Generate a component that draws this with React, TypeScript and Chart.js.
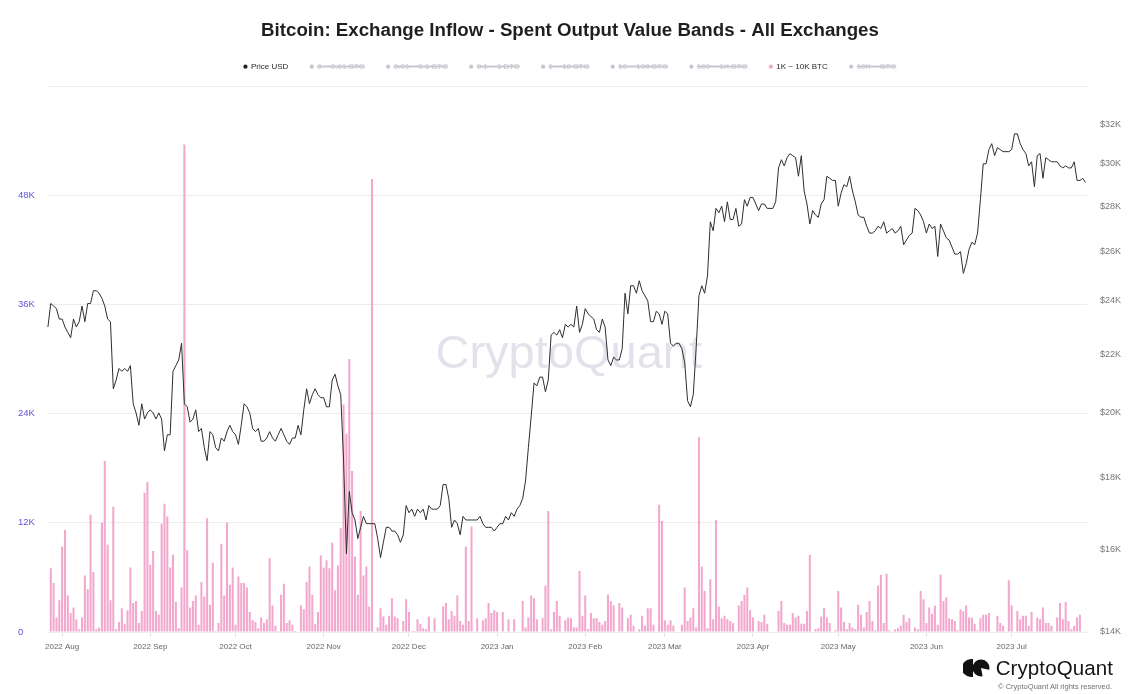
import React, { useEffect, useRef } from "react";
import { Chart, registerables } from "chart.js";

Chart.register(...registerables);

// ---------------- data ----------------
const startYear = 2022;
const startMonthIndex = 6; // July
const startDay = 27;
const monthNames = ["Jan", "Feb", "Mar", "Apr", "May", "Jun", "Jul", "Aug", "Sep", "Oct", "Nov", "Dec"];

// BTC price in thousands of USD, one value per day (2022-07-27 .. 2023-07-27)
const priceUsdK = [
  23.0, 23.9, 23.8, 23.7, 23.3, 23.3, 23.0, 22.8, 22.6, 23.3,
  23.0, 23.2, 23.8, 23.2, 23.9, 23.9, 24.4, 24.4, 24.3, 24.1,
  23.8, 23.3, 23.2, 20.8, 21.1, 21.5, 21.4, 21.5, 21.4, 21.6,
  20.3, 20.0, 19.6, 20.3, 19.8, 20.0, 20.1, 20.0, 19.8, 20.0,
  19.8, 18.8, 19.3, 19.3, 21.4, 21.6, 21.8, 22.4, 20.3, 20.2,
  19.7, 19.8, 20.1, 19.4, 19.5, 18.9, 18.5, 19.4, 19.3, 18.9,
  18.8, 19.2, 19.1, 19.4, 19.6, 19.4, 19.3, 19.0, 19.6, 20.3,
  20.2, 20.0, 19.5, 19.4, 19.5, 19.1, 19.1, 19.2, 19.4, 19.2,
  19.1, 19.3, 19.5, 19.3, 19.1, 19.0, 19.2, 19.2, 19.6, 19.3,
  20.1, 20.8, 20.3, 20.6, 20.8, 20.6, 20.5, 20.5, 20.2, 20.2,
  21.1, 21.3, 20.9, 20.6, 18.5, 15.9, 17.6, 17.0, 16.8, 16.3,
  16.6, 16.9, 16.7, 16.7, 16.7, 16.7, 16.3, 15.8, 16.2, 16.6,
  16.6, 16.5, 16.5, 16.4, 16.2, 16.4, 17.2, 17.0, 17.1, 16.9,
  17.1, 17.0, 17.1, 16.8, 17.2, 17.1, 17.1, 17.1, 17.2, 17.8,
  17.8, 17.4, 16.6, 16.8, 16.7, 16.4, 16.9, 16.8, 16.8, 16.8,
  16.8, 16.8, 16.9, 16.7, 16.6, 16.6, 16.6, 16.5, 16.6, 16.7,
  16.7, 16.9, 16.8, 17.0, 16.9, 17.1, 17.2, 17.4, 17.9, 18.9,
  19.9, 21.0, 20.9, 21.2, 21.2, 20.7, 21.1, 22.7, 22.8, 22.7,
  22.9, 22.6, 23.1, 23.0, 23.1, 23.0, 23.8, 22.8, 23.1, 23.7,
  23.5, 23.4, 23.3, 22.9, 22.8, 23.3, 23.0, 21.8, 21.6, 21.9,
  21.8, 21.8, 22.2, 24.3, 23.5, 24.6, 24.6, 24.3, 24.8, 24.4,
  24.2, 24.0, 23.2, 23.2, 23.6, 23.5, 23.1, 23.6, 23.5, 22.4,
  22.3, 22.4, 22.4, 22.2, 21.7, 20.4, 20.2, 20.6, 22.2, 24.2,
  24.6, 24.3, 25.0, 27.3, 26.9, 27.9, 27.7, 28.0, 27.3, 28.2,
  27.4, 27.4, 27.9, 27.1, 27.2, 28.3, 28.0, 28.4, 28.4, 28.1,
  27.8, 28.1, 28.1, 27.9, 27.9, 27.9, 28.2, 29.8, 30.2, 29.9,
  30.3, 30.5, 30.4, 30.3, 29.4, 30.4, 28.7, 28.1, 27.2, 27.8,
  27.6, 27.5, 28.1, 28.3, 29.4, 29.3, 29.2, 29.2, 28.0, 28.6,
  29.0, 28.9, 29.4, 28.7, 28.2, 27.6, 27.5, 27.5, 27.1, 26.8,
  26.8, 26.9, 27.1, 27.0, 27.3, 26.8, 26.9, 27.0, 26.8, 26.9,
  27.1, 26.3, 26.5, 26.7, 26.8, 27.9, 27.8, 27.6, 27.3, 26.8,
  27.2, 27.0, 27.1, 25.8, 27.2, 26.9, 26.6, 26.5, 26.2, 25.9,
  25.9, 26.0, 25.1, 25.5, 26.1, 26.4, 26.3, 26.8, 28.3, 30.0,
  30.0, 30.7, 31.0, 30.4, 30.8, 30.7, 30.6, 30.6, 30.6, 30.7,
  31.5, 31.5, 31.0, 30.7, 30.5, 29.9, 30.1, 28.9, 30.4, 30.5,
  29.3, 30.3, 30.2, 30.1, 30.1, 30.1, 29.9, 29.8, 29.9, 29.8,
  29.8, 30.1, 29.2, 29.2, 29.3, 29.1,
];

// Exchange inflow, 1K ~ 10K BTC band, in thousands of BTC per day
const inflow1kTo10kK = [
  0,
  7.0, 5.4, 1.6, 3.5, 9.4, 11.2, 4.0, 2.1, 2.7, 1.4,
  0.3, 1.6, 6.2, 4.7, 12.9, 6.6, 0.3, 0.5, 12.0, 18.8,
  9.6, 3.5, 13.8, 0.3, 1.1, 2.6, 0.9, 2.4, 7.1, 3.2,
  3.4, 1.0, 2.3, 15.3, 16.5, 7.4, 8.9, 2.3, 1.9, 11.9,
  14.1, 12.7, 7.1, 8.5, 3.3, 0.4, 4.9, 53.6, 9.0, 2.7,
  3.4, 4.0, 0.8, 5.5, 3.9, 12.5, 3.0, 7.6, 0.1, 1.0,
  9.7, 4.0, 12.0, 5.2, 7.1, 0.8, 6.1, 5.4, 5.4, 4.9,
  2.2, 1.3, 1.1, 0.4, 1.6, 1.0, 1.4, 8.1, 2.9, 0.7,
  0.1, 4.1, 5.3, 1.0, 1.3, 0.8, 0.1, 0, 2.9, 2.5,
  5.5, 7.2, 4.1, 0.9, 2.2, 8.4, 7.1, 7.9, 7.0, 9.8,
  4.6, 7.3, 11.4, 25.0, 21.8, 30.0, 17.7, 8.3, 4.1, 13.3,
  6.2, 7.2, 2.8, 49.8, 0, 0.5, 2.6, 1.7, 0.8, 1.8,
  3.7, 1.7, 1.5, 0, 1.2, 3.6, 2.2, 0.1, 0.1, 1.4,
  0.9, 0.4, 0.3, 1.7, 0, 1.5, 0, 0, 2.8, 3.2,
  1.4, 2.3, 1.8, 4.0, 1.2, 0.8, 9.4, 1.2, 11.6, 0,
  1.5, 0, 1.3, 1.5, 3.2, 2.1, 2.4, 2.2, 0, 2.2,
  0, 1.4, 0, 1.4, 0, 0, 3.4, 0.5, 1.6, 4.0,
  3.7, 1.4, 0, 1.5, 5.1, 13.3, 0.3, 2.2, 3.4, 1.8,
  0, 1.3,
  1.6, 1.5, 0.5, 0.5, 6.7, 1.8, 4.0, 0.3, 2.1, 1.5,
  1.5, 1.1, 0.8, 1.2, 4.1, 3.4, 2.9, 0, 3.2, 2.7,
  0, 1.5, 1.9, 0.7, 0, 0.3, 1.8, 0.7, 2.6, 2.6,
  0.8, 0, 14.0, 12.2, 1.3, 0.8, 1.3, 0.7, 0, 0,
  0.8, 4.9, 1.2, 1.6, 2.6, 0.5, 21.4, 7.2, 4.5, 0.4,
  5.8, 1.4, 12.3, 2.8, 1.5, 1.8, 1.4, 1.2, 1.0, 0,
  2.9, 3.4, 4.1, 4.9, 2.4, 1.6, 0, 1.2, 1.1, 1.9,
  0.9, 0, 0, 0, 2.3, 3.4, 1.0, 0.8, 0.8, 2.1,
  1.6, 1.8, 0.9, 0.9, 2.3, 8.5, 0, 0.3, 0.4, 1.7,
  2.6,
  1.6, 1.0, 0, 0.2, 4.5, 2.7, 1.1, 0.3, 1.0, 0.5,
  0.3, 3.0, 1.9, 0.5, 2.2, 3.4, 1.2, 0.2, 5.1, 6.3,
  1.0, 6.4, 0.2, 0, 0.3, 0.4, 0.7, 1.9, 1.1, 1.5,
  0, 0.5, 0.3, 4.5, 3.6, 1.0, 2.7, 2.0, 2.9, 0.8,
  6.3, 3.4, 3.8, 1.5, 1.4, 1.2, 0.2, 2.5, 2.3, 2.9,
  1.6, 1.6, 0.9, 0.2, 1.5, 1.9, 1.9, 2.1, 0, 0,
  1.8, 1.0, 0.7, 0, 5.7, 2.9, 0, 2.3, 1.4, 1.8,
  1.8, 0.7, 2.2, 0, 1.6, 1.4, 2.7, 1.0, 1.0, 0.7,
  0, 1.6, 3.2, 1.4, 3.3, 1.2, 0.3, 0.7, 1.6, 1.9,
  0,
  0,
];

const legendNames = [
  "Price USD",
  "0 ~ 0.01 BTC",
  "0.01 ~ 0.1 BTC",
  "0.1 ~ 1 BTC",
  "1 ~ 10 BTC",
  "10 ~ 100 BTC",
  "100 ~ 1K BTC",
  "1K ~ 10K BTC",
  "10K ~ BTC",
];
const shownBand = "1K ~ 10K BTC";
const leftTicksK = [0, 12, 24, 36, 48, 60];
const rightTicksK = [14, 16, 18, 20, 22, 24, 26, 28, 30, 32];

const titleText = "Bitcoin: Exchange Inflow - Spent Output Value Bands - All Exchanges";

// ---------------- helpers ----------------
const dayLabels = priceUsdK.map((_, i) => {
  const d = new Date(Date.UTC(startYear, startMonthIndex, startDay + i));
  return d.toISOString().slice(0, 10);
});
const monthTickText = (iso: string) => {
  if (!iso || !iso.endsWith("-01")) return null;
  const y = iso.slice(0, 4);
  const m = parseInt(iso.slice(5, 7), 10) - 1;
  return `${y} ${monthNames[m]}`;
};

const PINK = "#f3a7cd";
const HIDDEN_GREY = "#c6c6cf";
const FONT = "'Liberation Sans', Arial, Helvetica, sans-serif";
const LEFT_PAD = 18;

const legendPadPlugin = {
  id: "legendPad",
  beforeLayout(chart: any) {
    const lg = chart.legend;
    if (lg && !lg.__padded) {
      const orig = lg.fit.bind(lg);
      lg.fit = function () {
        orig();
        this.height += 5.5;
      };
      lg.__padded = true;
    }
  },
  // centre title and legend on the full canvas width (not the padded box)
  afterLayout(chart: any) {
    const shift = LEFT_PAD / 2;
    [chart.titleBlock, chart.legend].forEach((b: any) => {
      if (b) {
        b.left -= shift;
        b.right -= shift;
      }
    });
  },
};

const watermarkPlugin = {
  id: "watermark",
  beforeDatasetsDraw(chart: any) {
    const { ctx, chartArea } = chart;
    ctx.save();
    ctx.font = `47px ${FONT}`;
    ctx.fillStyle = "rgba(178,178,200,0.38)";
    ctx.textAlign = "center";
    ctx.textBaseline = "middle";
    ctx.fillText("CryptoQuant", (chartArea.left + chartArea.right) / 2 + 2, 355);
    ctx.restore();
  },
};

export default function App() {
  const canvasRef = useRef<HTMLCanvasElement | null>(null);

  useEffect(() => {
    if (!canvasRef.current) return;
    Chart.defaults.font.family = FONT;

    const datasets: any[] = legendNames.map((name, i) => {
      if (i === 0) {
        return {
          type: "line",
          label: name,
          data: priceUsdK.map((v) => v * 1000),
          yAxisID: "y1",
          borderColor: "#2e2e2e",
          backgroundColor: "#2e2e2e",
          borderWidth: 1,
          pointRadius: 0,
          tension: 0,
          order: 0,
        };
      }
      const isShown = name === shownBand;
      return {
        type: "bar",
        label: name,
        data: isShown ? inflow1kTo10kK.map((v) => v * 1000) : [],
        yAxisID: "y",
        backgroundColor: isShown ? PINK : HIDDEN_GREY,
        borderWidth: 0,
        hidden: !isShown,
        categoryPercentage: 0.9,
        barPercentage: 0.8,
        order: 1,
      };
    });

    const chart = new Chart(canvasRef.current, {
      type: "bar",
      data: { labels: dayLabels, datasets },
      options: {
        animation: false,
        responsive: false,
        devicePixelRatio: 1,
        layout: { padding: { left: LEFT_PAD, right: 0, top: 0, bottom: 0 } },
        plugins: {
          tooltip: { enabled: false },
          title: {
            display: true,
            text: titleText,
            color: "#1f1f1f",
            font: { size: 18.7, weight: "bold", lineHeight: 1 },
            padding: { top: 22, bottom: 0 },
          },
          legend: {
            display: true,
            position: "top",
            onClick: () => {},
            labels: {
              font: { size: 8 },
              usePointStyle: true,
              pointStyle: "circle",
              boxWidth: 3,
              boxHeight: 3,
              padding: 22,
              generateLabels: (ch: any) => {
                const base = (Chart.defaults.plugins.legend.labels as any).generateLabels(ch);
                return base.map((it: any, i: number) => {
                  const dot = it.hidden ? HIDDEN_GREY : i === 0 ? "#222" : PINK;
                  return {
                    ...it,
                    fontColor: it.hidden ? HIDDEN_GREY : "#2a2a2a",
                    fillStyle: dot,
                    strokeStyle: dot,
                    lineWidth: 0,
                    pointStyle: "circle",
                  };
                });
              },
            },
          },
        },
        scales: {
          x: {
            type: "category",
            offset: true,
            grid: {
              display: true,
              drawOnChartArea: false,
              drawTicks: true,
              tickLength: 5,
              color: "#e2e2e2",
              offset: false,
            },
            border: { display: false },
            ticks: {
              autoSkip: false,
              maxRotation: 0,
              minRotation: 0,
              padding: 5,
              color: "#666",
              font: { size: 8 },
              callback: (value: any) => monthTickText(dayLabels[value as number]),
            },
            afterFit: (s: any) => {
              s.height = 62;
            },
          },
          y: {
            type: "linear",
            position: "left",
            min: 0,
            max: 60000,
            afterBuildTicks: (s: any) => {
              s.ticks = leftTicksK.map((v) => ({ value: v * 1000 }));
            },
            grid: { color: "#ececec", drawTicks: false, lineWidth: 1 },
            border: { display: false },
            ticks: {
              color: "#5f53d6",
              font: { size: 9.5 },
              padding: 0,
              crossAlign: "far",
              callback: (v: any) => (v === 0 ? "0" : v >= 60000 ? "" : `${v / 1000}K`),
            },
            afterFit: (s: any) => {
              s.width = 28.5;
            },
          },
          y1: {
            type: "logarithmic",
            position: "right",
            min: 14000,
            max: 34040,
            afterBuildTicks: (s: any) => {
              s.ticks = rightTicksK.map((v) => ({ value: v * 1000 }));
            },
            grid: { display: false, drawTicks: false },
            border: { display: false },
            ticks: {
              color: "#777",
              font: { size: 9 },
              padding: 13,
              callback: (v: any) => `$${Math.round(v / 1000)}K`,
            },
            afterFit: (s: any) => {
              s.width = 53;
            },
          },
        },
      } as any,
      plugins: [legendPadPlugin, watermarkPlugin],
    });

    return () => {
      chart.destroy();
    };
  }, []);

  return (
    <div
      style={{
        position: "fixed",
        left: 0,
        top: 0,
        width: 1140,
        height: 694,
        background: "#fff",
        fontFamily: FONT,
        overflow: "hidden",
      }}
    >
      <canvas ref={canvasRef} width={1140} height={694} style={{ display: "block" }} />
      <div
        style={{
          position: "absolute",
          right: 27,
          top: 656,
          display: "flex",
          alignItems: "center",
          gap: 6,
        }}
      >
        <svg width="27" height="20" viewBox="0 0 27 20">
          <path d="M8 1 A9 9 0 0 0 8 19 L10 19 L10 1 Z" fill="#111" />
          <circle cx="18" cy="10" r="8.5" fill="#111" />
          <path d="M18 10 L27 12 L27 20 L20 20 Z" fill="#fff" />
        </svg>
        <span style={{ fontSize: 20.5, color: "#151515", letterSpacing: 0.1 }}>CryptoQuant</span>
      </div>
      <div
        style={{
          position: "absolute",
          right: 28,
          top: 682,
          fontSize: 7.5,
          color: "#707070",
        }}
      >
        © CryptoQuant All rights reserved.
      </div>
    </div>
  );
}
